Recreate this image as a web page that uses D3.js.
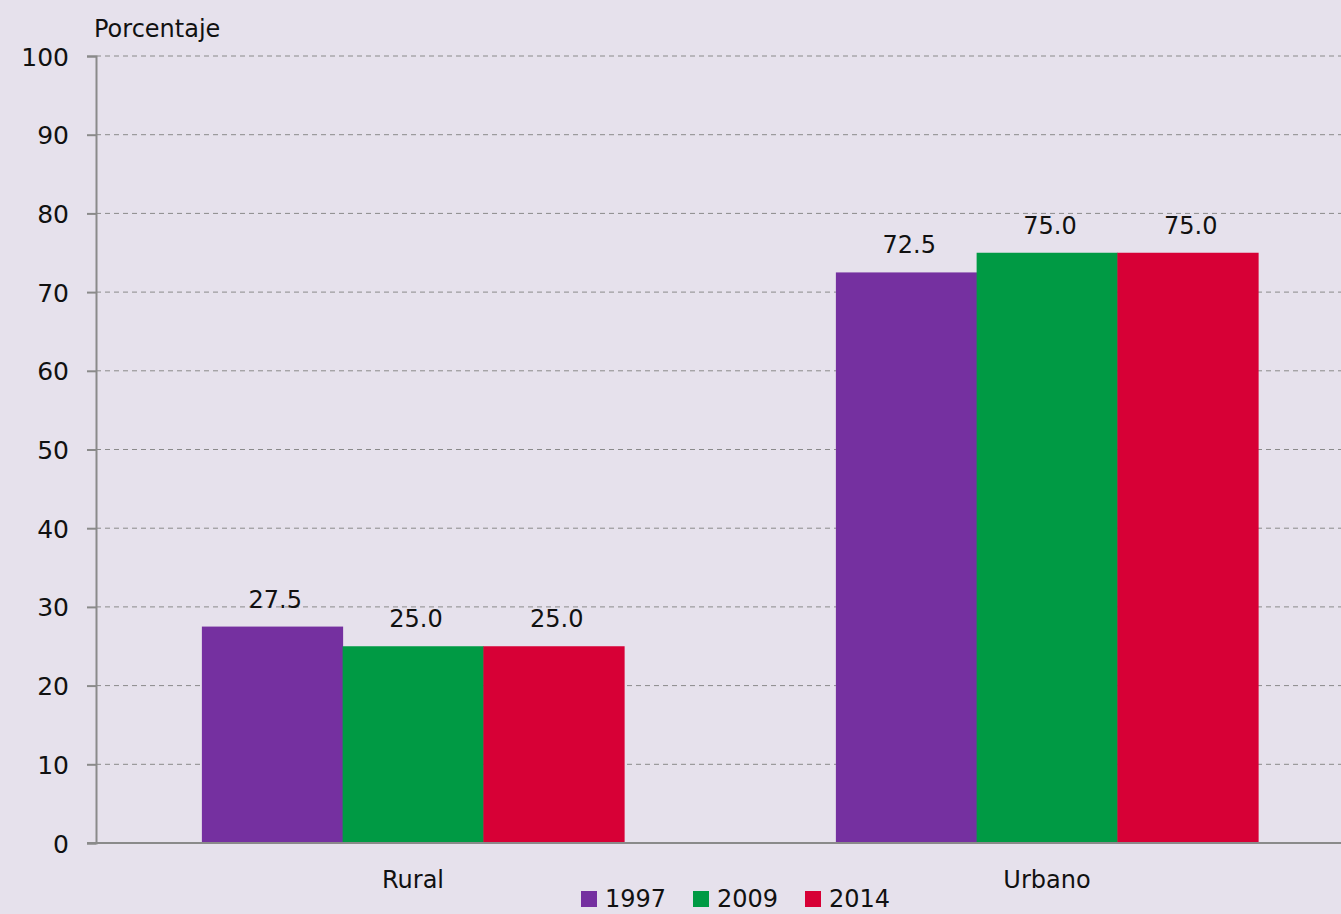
<!DOCTYPE html>
<html>
<head>
<meta charset="utf-8">
<script src="https://cdn.jsdelivr.net/npm/d3@7"></script>
<style>
body { margin: 0; background: #e6e1ec; }
svg { display: block; font-family: 'DejaVu Sans', sans-serif; }
</style>
</head>
<body>
<svg width="1341" height="914"></svg>
<script>
// data
var categories = ['Rural', 'Urbano'];
var years = ['1997', '2009', '2014'];
var v1997 = [27.5, 72.5];
var v2009 = [25.0, 75.0];
var v2014 = [25.0, 75.0];
var yTicks = [0, 10, 20, 30, 40, 50, 60, 70, 80, 90, 100];
var colors = ['#7530a0', '#009a44', '#d70036'];

var series = [v1997, v2009, v2014];

var svg = d3.select('svg');
svg.append('rect').attr('width', 1341).attr('height', 914).attr('fill', '#e6e1ec');

var x0 = d3.scaleBand().domain(categories).range([96, 1364]).paddingInner(0.334).paddingOuter(0.167);
var x1 = d3.scaleBand().domain(years).range([0, x0.bandwidth()]);
var y = d3.scaleLinear().domain([0, 100]).range([843, 56]);
var color = d3.scaleOrdinal().domain(years).range(colors);

// grid lines
svg.append('g')
.selectAll('line')
.data(yTicks.filter(function(d) { return d > 0; }))
.enter()
.append('line')
.attr('x1', 96).attr('x2', 1341)
.attr('y1', function(d) { return y(d); })
.attr('y2', function(d) { return y(d); })
.attr('stroke', '#8a8a8a')
.attr('stroke-width', 1)
.attr('stroke-dasharray', '5,4');

// y axis
var yAxis = svg.append('g')
.attr('transform', 'translate(96,0)')
.call(d3.axisLeft(y).tickValues(yTicks).tickSize(9).tickPadding(18));
yAxis.select('.domain').attr('stroke', '#8a8a8a').attr('stroke-width', 2);
yAxis.selectAll('.tick line').attr('stroke', '#8a8a8a').attr('stroke-width', 2);
yAxis.selectAll('.tick text')
.attr('font-size', 25)
.attr('font-family', 'DejaVu Sans, sans-serif')
.attr('fill', '#111')
.attr('dy', '0.36em');

svg.append('text')
.attr('x', 94).attr('y', 37)
.attr('font-size', 24)
.attr('fill', '#111')
.text('Porcentaje');

// bars
var groups = svg.append('g')
.selectAll('g')
.data(categories)
.enter()
.append('g')
.attr('transform', function(d) { return 'translate(' + x0(d) + ',0)'; });

groups.selectAll('rect')
.data(function(d, i) { return years.map(function(yr, j) { return {year: yr, value: series[j][i]}; }); })
.enter()
.append('rect')
.attr('x', function(d) { return x1(d.year); })
.attr('width', x1.bandwidth() + 0.5)
.attr('y', function(d) { return y(d.value); })
.attr('height', function(d) { return y(0) - y(d.value); })
.attr('fill', function(d) { return color(d.year); });

groups.selectAll('text')
.data(function(d, i) { return years.map(function(yr, j) { return {year: yr, value: series[j][i]}; }); })
.enter()
.append('text')
.attr('x', function(d) { return x1(d.year) + x1.bandwidth() / 2 + 3; })
.attr('y', function(d) { return y(d.value) - 19; })
.attr('text-anchor', 'middle')
.attr('font-size', 24)
.attr('fill', '#111')
.text(function(d) { return d.value.toFixed(1); });

// x axis line
svg.append('line')
.attr('x1', 87).attr('x2', 1341)
.attr('y1', y(0)).attr('y2', y(0))
.attr('stroke', '#8a8a8a').attr('stroke-width', 2);

svg.append('g')
.selectAll('text')
.data(categories)
.enter()
.append('text')
.attr('x', function(d) { return x0(d) + x0.bandwidth() / 2; })
.attr('y', 888)
.attr('text-anchor', 'middle')
.attr('font-size', 24)
.attr('fill', '#111')
.text(function(d) { return d; });

// legend
var legend = svg.append('g')
.selectAll('g')
.data(years)
.enter()
.append('g')
.attr('transform', function(d, i) { return 'translate(' + (581 + i * 112) + ',0)'; });

legend.append('rect')
.attr('x', 0).attr('y', 891)
.attr('width', 16).attr('height', 16)
.attr('fill', function(d) { return color(d); });

legend.append('text')
.attr('x', 24).attr('y', 907)
.attr('font-size', 24)
.attr('fill', '#111')
.text(function(d) { return d; });
</script>
</body>
</html>
